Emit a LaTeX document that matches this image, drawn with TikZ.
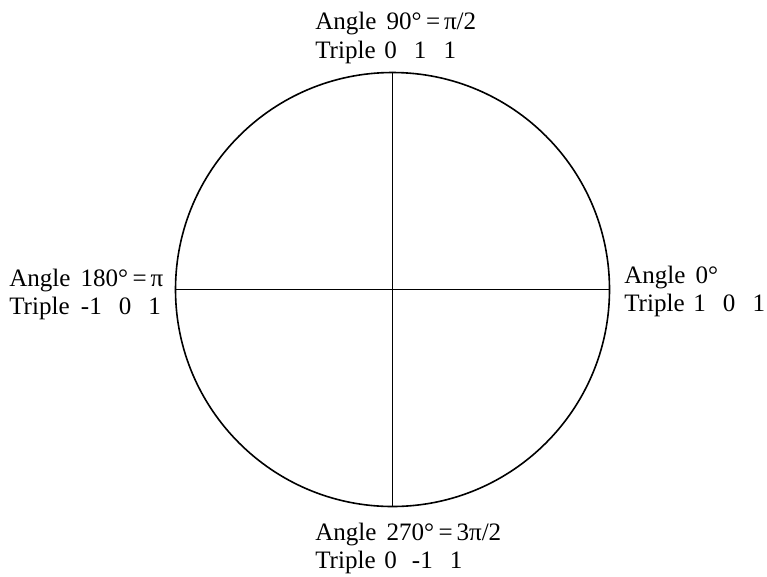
\documentclass[tikz,border=0pt]{standalone}
\usepackage{fontspec}
\setmainfont{Liberation Serif}
\begin{document}
\begin{tikzpicture}[x=0.75pt,y=-0.75pt,
  lbl/.style={anchor=base west,inner sep=0pt,font=\fontsize{18.8}{22}\selectfont},
  ln/.style={line width=1.2pt,black}]
\useasboundingbox (0,0) rectangle (767,576);
\node[draw,ln,circle,minimum size=325.5pt,inner sep=0pt] (c) at (392.5,289.5) {};
\draw[ln] (c.north) -- (c.south);
\draw[ln] (c.west) -- (c.east);
\newcommand{\gp}{\hspace{0.68em}}
\newcommand{\eqs}{\hspace{0.18em}=\hspace{0.15em}}
\node[lbl] (t1) at (315,29) {Angle\hspace{0.4em}90°\eqs π/2};
\node[lbl] (t2) at (315,58) {Triple\hspace{0.35em}0\gp1\gp1};
\node[lbl] (l1) at (9,286) {Angle\hspace{0.4em}180°\eqs π};
\node[lbl] (l2) at (9,314) {Triple\hspace{0.45em}-1\gp0\gp1};
\node[lbl] (r1) at (624,283) {Angle\hspace{0.4em}0°};
\node[lbl] (r2) at (624,311) {Triple\hspace{0.35em}1\gp0\gp1};
\node[lbl] (b1) at (315,540) {Angle\hspace{0.4em}270°\eqs 3π/2};
\node[lbl] (b2) at (315,568) {Triple\hspace{0.35em}0\hspace{0.6em}-1\gp1};
\end{tikzpicture}
\end{document}
